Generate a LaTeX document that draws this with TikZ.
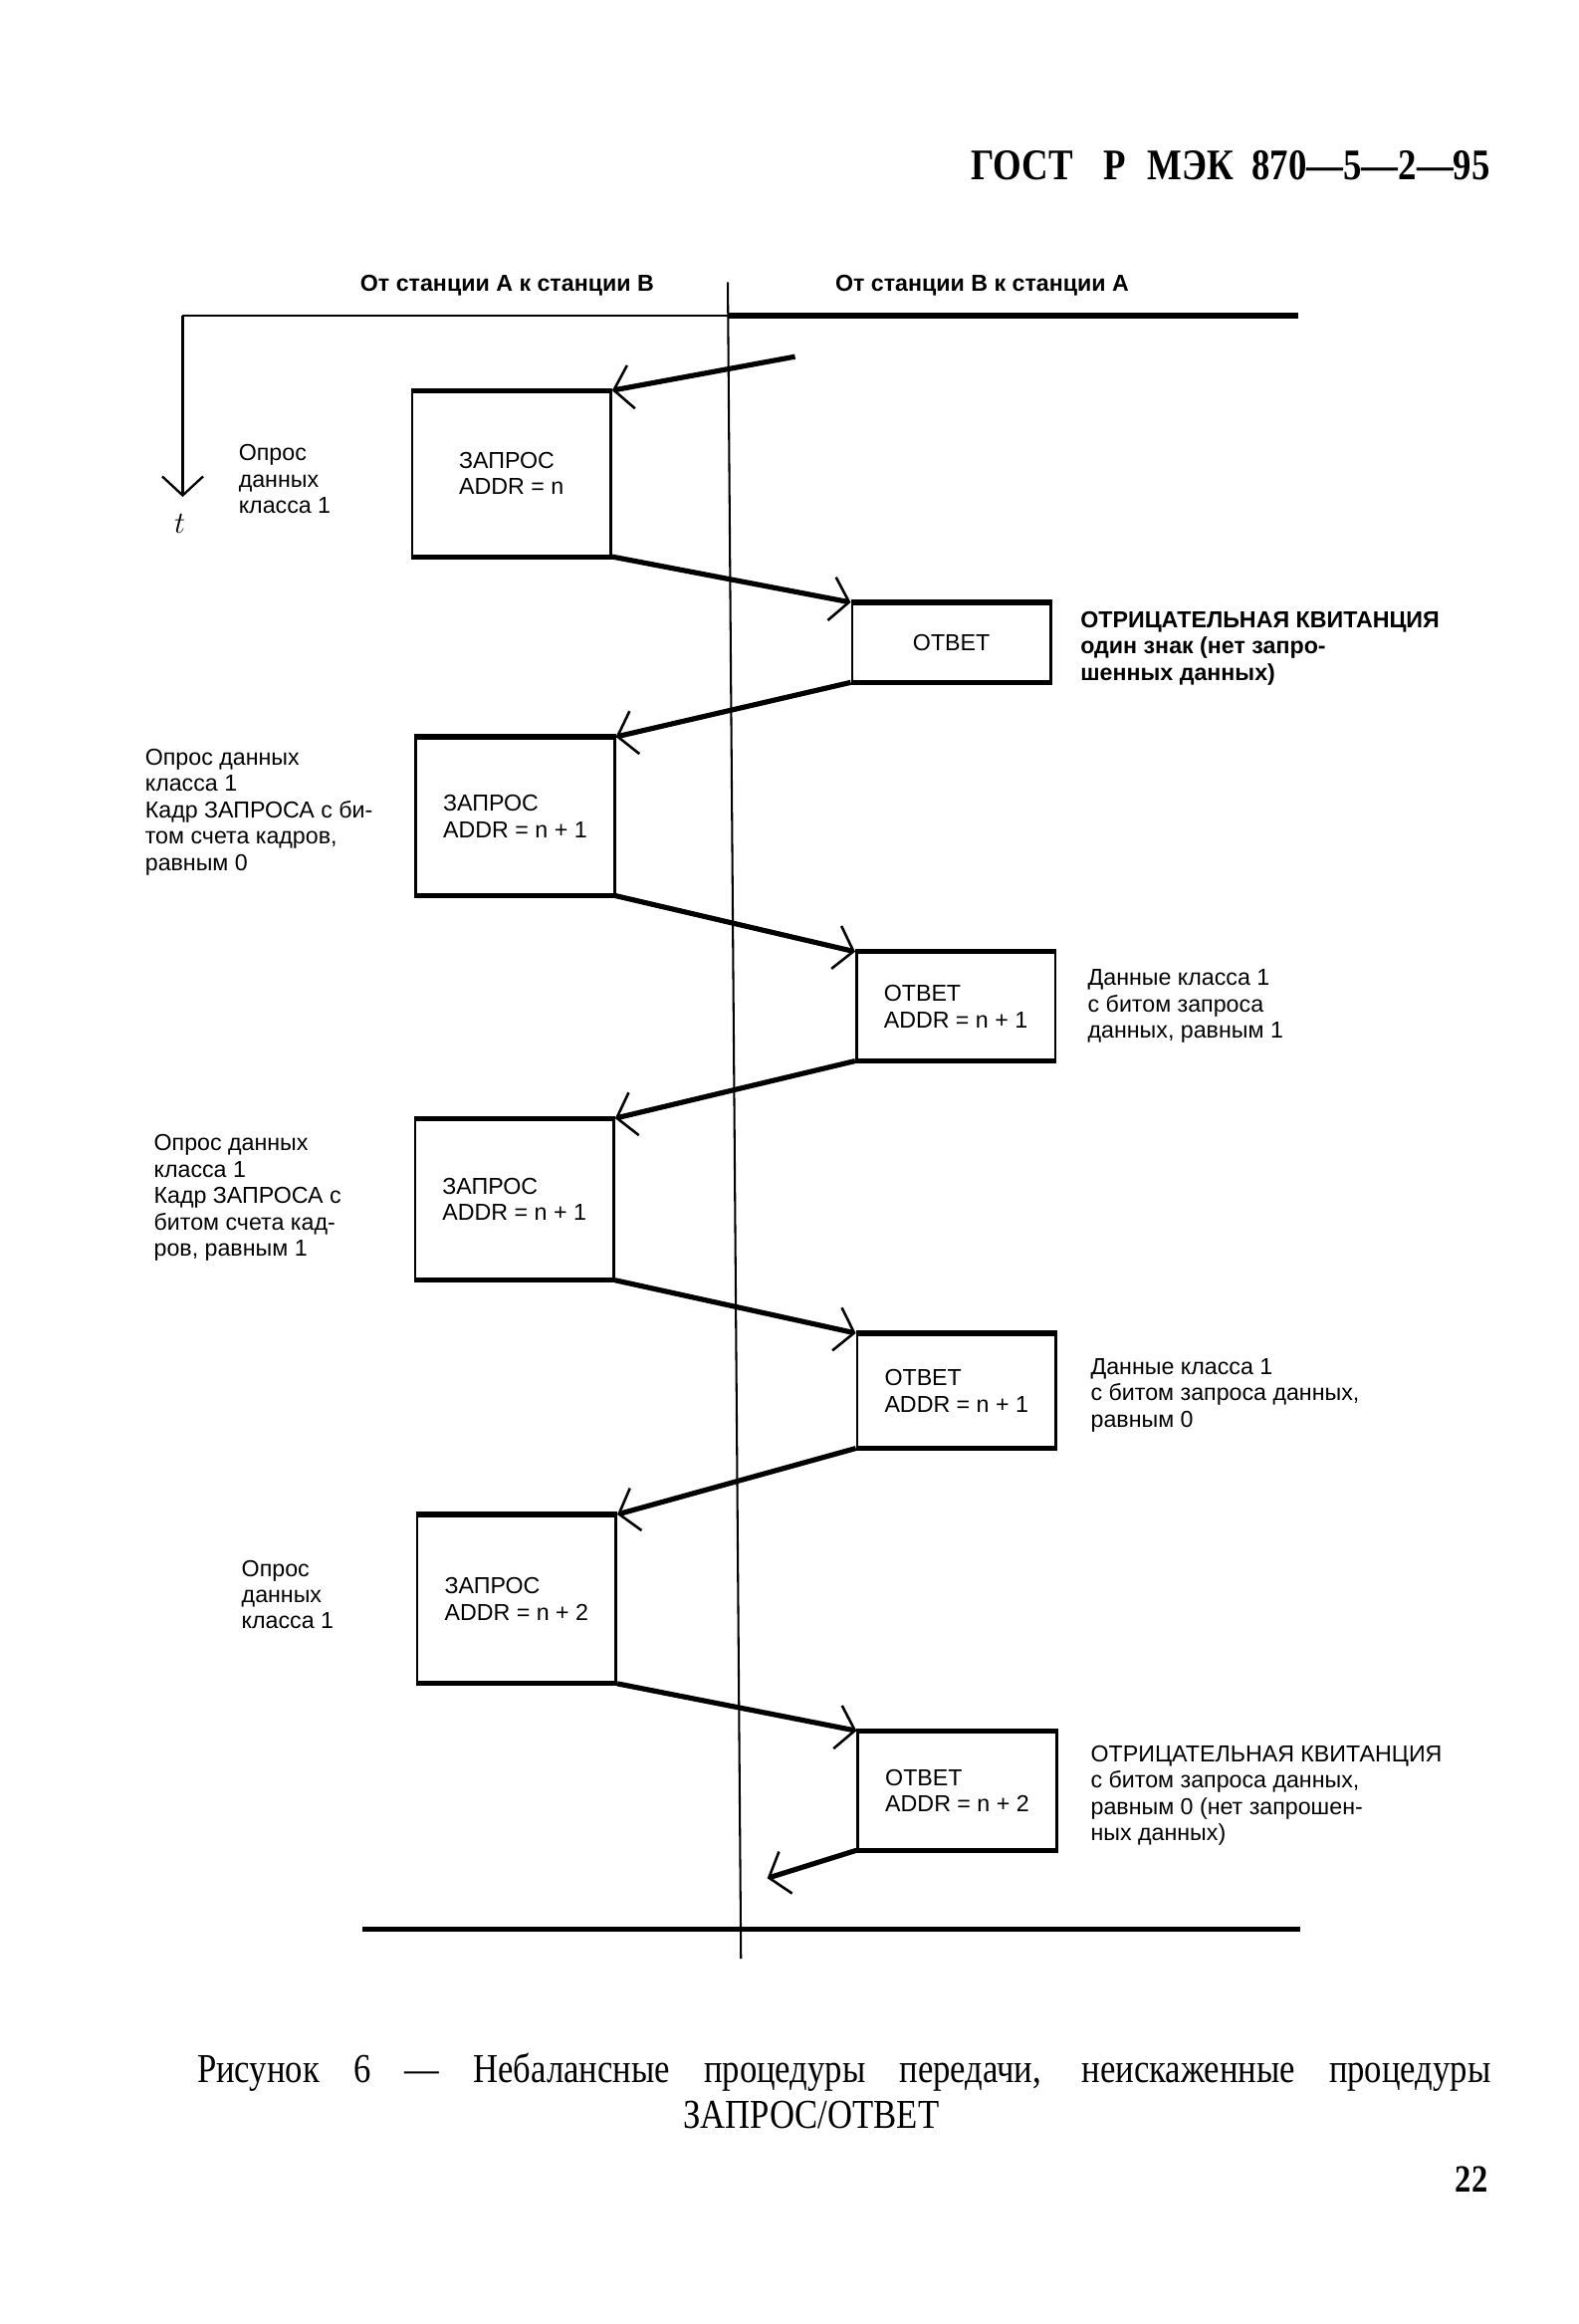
\documentclass[tikz,border=0pt]{standalone}
\usepackage{fontspec}
\setmainfont{Liberation Serif}
\setsansfont{Liberation Sans}
\newfontfamily\condserif[FakeStretch=0.84]{Liberation Serif}
\usepackage{tikz}
\usetikzlibrary{arrows.meta}

\tikzset{
  frame/.style={draw,line width=1pt,inner sep=0pt,minimum width=27.2mm,align=left,
    font=\sffamily\fontsize{9}{10.25}\selectfont},
  note/.style={anchor=north west,inner sep=0pt,align=left,
    font=\sffamily\fontsize{9}{10.25}\selectfont},
  head/.style={inner sep=0pt,font=\sffamily\bfseries\fontsize{9}{10.25}\selectfont},
  msg/.style={line width=2pt,-{Straight Barb[length=2.4mm,width=6mm,line width=1pt]}},
}

\begin{document}
\begin{tikzpicture}[x=0.2mm,y=-0.2mm]
	\useasboundingbox (0,0) rectangle (1080,1590);
	\node[anchor=east,inner sep=0pt,font=\condserif\bfseries\fontsize{17}{20}\selectfont] (gost) at (1020,113) {ГОСТ\hspace{4.2mm}Р\hspace{2.9mm}МЭК\hspace{2.5mm}870—5—2—95};
	\node[head] (dirAB) at (347,195) {От станции А к станции В};
	\node[head] (dirBA) at (672,195) {От станции В к станции А};
	% axes
	\coordinate (corner) at (125,216);
	\coordinate (midtop) at (498,216);
	\coordinate (topend) at (888,216);
	\coordinate (timeend) at (125,340);
	\draw[line width=0.8pt] (corner) -- (midtop);
	\draw[line width=2pt] (midtop) -- (topend);
	\draw[line width=0.8pt,-{Straight Barb[length=2.6mm,width=5.6mm,line width=0.9pt]}] (corner) -- (timeend);
	\node[font=\fontsize{12}{14}\selectfont] (t) at (123,358) {$t$};
	\coordinate (linetop) at (498,193);
	\coordinate (linebot) at (507,1340);
	\draw[line width=0.8pt] (linetop) -- (linebot);
	\coordinate (basel) at (248,1320);
	\coordinate (baser) at (890,1320);
	\draw[line width=2pt] (basel) -- (baser);
	% frames
	\node[frame,minimum height=22.4mm] (req1) at (350,324) {ЗАПРОС\\ADDR = n};
	\node[frame,minimum height=10.6mm] (ans1) at (651,439.5) {ОТВЕТ};
	\node[frame,minimum height=21.4mm] (req2) at (352.5,558.5) {ЗАПРОС\\ADDR = n + 1};
	\node[frame,minimum height=14.6mm] (ans2) at (654,688.5) {ОТВЕТ\\ADDR = n + 1};
	\node[frame,minimum height=21.8mm] (req3) at (352,820.5) {ЗАПРОС\\ADDR = n + 1};
	\node[frame,minimum height=15.4mm] (ans3) at (654.5,951.5) {ОТВЕТ\\ADDR = n + 1};
	\node[frame,minimum height=22.8mm] (req4) at (353.5,1094) {ЗАПРОС\\ADDR = n + 2};
	\node[frame,minimum height=16mm] (ans4) at (655,1225) {ОТВЕТ\\ADDR = n + 2};
	\foreach \b in {req1,ans1,req2,ans2,req3,ans3,req4,ans4}
		\draw[line width=2pt] (\b.north west) -- (\b.north east) (\b.south west) -- (\b.south east);
	% messages
	\coordinate (poll) at (544,244);
	\coordinate (fin) at (525,1285);
	\draw[msg] (poll) -- (req1.north east);
	\draw[msg] (req1.south east) -- (ans1.north west);
	\draw[msg] (ans1.south west) -- (req2.north east);
	\draw[msg] (req2.south east) -- (ans2.north west);
	\draw[msg] (ans2.south west) -- (req3.north east);
	\draw[msg] (req3.south east) -- (ans3.north west);
	\draw[msg] (ans3.south west) -- (req4.north east);
	\draw[msg] (req4.south east) -- (ans4.north west);
	\draw[msg] (ans4.south west) -- (fin);
	% notes
	\node[note] (n1) at (163,304) {Опрос\\данных\\класса 1};
	\node[note,font=\sffamily\bfseries\fontsize{9}{10.25}\selectfont] (n2) at (739,418) {ОТРИЦАТЕЛЬНАЯ КВИТАНЦИЯ\\один знак (нет запро-\\шенных данных)};
	\node[note] (n3) at (99,512) {Опрос данных\\класса 1\\Кадр ЗАПРОСА с би-\\том счета кадров,\\равным 0};
	\node[note] (n4) at (744,663) {Данные класса 1\\с битом запроса\\данных, равным 1};
	\node[note] (n5) at (105,776) {Опрос данных\\класса 1\\Кадр ЗАПРОСА с\\битом счета кад-\\ров, равным 1};
	\node[note] (n6) at (746,929) {Данные класса 1\\с битом запроса данных,\\равным 0};
	\node[note] (n7) at (165,1067) {Опрос\\данных\\класса 1};
	\node[note] (n8) at (746,1194) {ОТРИЦАТЕЛЬНАЯ КВИТАНЦИЯ\\с битом запроса данных,\\равным 0 (нет запрошен-\\ных данных)};
	% caption
	\node[font=\condserif\fontsize{16}{18}\selectfont] (cap1) at (577.5,1418) {\makebox[177mm][s]{Рисунок 6 — Небалансные процедуры передачи, неискаженные процедуры}};
	\node[font=\condserif\fontsize{16}{18}\selectfont] (cap2) at (555,1447) {ЗАПРОС/ОТВЕТ};
	\node[font=\condserif\bfseries\fontsize{15}{17}\selectfont] (page) at (1007,1491) {22};
\end{tikzpicture}
\end{document}
